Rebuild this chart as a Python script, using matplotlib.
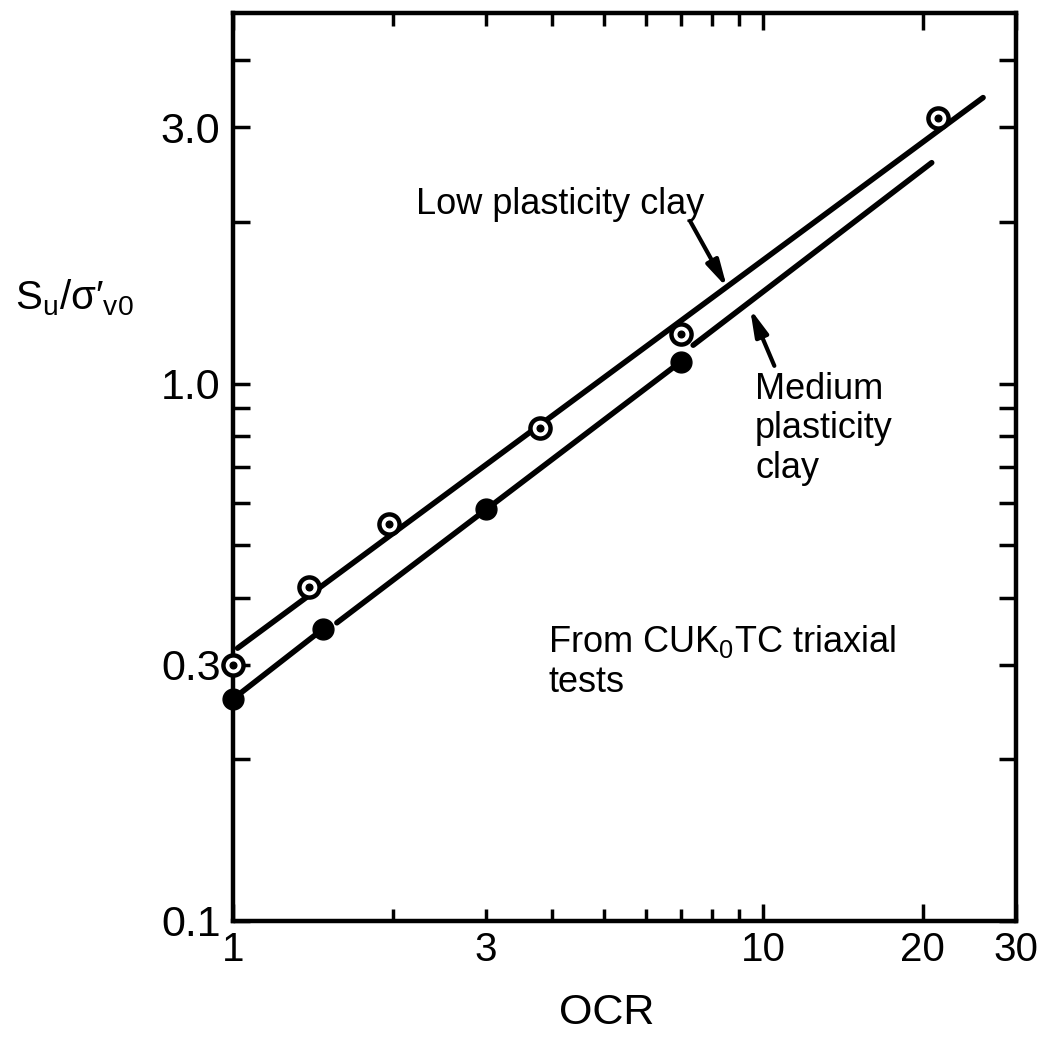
import numpy as np
import matplotlib
matplotlib.use('Agg')
import matplotlib.pyplot as plt
from matplotlib.ticker import NullFormatter

plt.rcParams['font.family'] = ['Liberation Sans', 'DejaVu Sans']
plt.rcParams['mathtext.fontset'] = 'custom'
plt.rcParams['mathtext.rm'] = 'Liberation Sans'
plt.rcParams['mathtext.it'] = 'Liberation Sans:italic'
plt.rcParams['mathtext.bf'] = 'Liberation Sans:bold'

# 测试点 (OCR, Su/σ'v0)
low_x = [1.0, 1.39, 1.97, 3.8, 7.0, 21.4]
low_y = [0.30, 0.419, 0.548, 0.828, 1.24, 3.13]
med_x = [1.0, 1.48, 3.0, 7.0]
med_y = [0.259, 0.350, 0.585, 1.10]

# 拟合线 (中塑性线在点旁断开)
low_line_x = [1.02, 26.0]
low_line_y = [0.322, 3.41]
med_line_x = [1.0, 1.48, np.nan, 1.57, 7.0, np.nan, 7.38, 20.8]
med_line_y = [0.259, 0.350, np.nan, 0.359, 1.10, np.nan, 1.18, 2.58]

x_major = [1, 10, 20, 30]
x_major_labels = ['1', '10', '20', '30']
x_minor = [2, 3, 4, 5, 6, 7, 8, 9]
x_minor_labels = ['', '3', '', '', '', '', '', '']
y_major = [0.1, 0.3, 1.0, 3.0]
y_major_labels = ['0.1', '0.3', '1.0', '3.0']
y_minor = [0.2, 0.4, 0.5, 0.6, 0.7, 0.8, 0.9, 2.0, 4.0]

fig = plt.figure(figsize=(10.44, 10.43), dpi=100)
ax = fig.add_axes([0.2232, 0.1170, 0.7500, 0.8705])
ax.set_xscale('log')
ax.set_yscale('log')

# 线
ax.plot(low_line_x, low_line_y, '-', color='black', lw=4.0, solid_capstyle='round', zorder=2)
ax.plot(med_line_x, med_line_y, '-', color='black', lw=4.0, solid_capstyle='round', zorder=2)

# 点
ax.plot(low_x, low_y, 'o', ms=14.5, mfc='white', mec='black', mew=3.2, zorder=3, clip_on=False)
ax.plot(low_x, low_y, 'o', ms=4.8, color='black', zorder=4, clip_on=False)
ax.plot(med_x, med_y, 'o', ms=15, color='black', zorder=3, clip_on=False)

ax.set_xlim(1, 30)
ax.set_ylim(0.1, 4.9)

ax.set_xticks(x_major, x_major_labels)
ax.set_xticks(x_minor, x_minor_labels, minor=True)
ax.set_yticks(y_major, y_major_labels)
ax.set_yticks(y_minor, minor=True)
ax.yaxis.set_minor_formatter(NullFormatter())

ax.tick_params(which='both', direction='in', top=True, right=True, width=2.5)
ax.tick_params(axis='x', which='major', length=12, labelsize=29, pad=7)
ax.tick_params(axis='x', which='minor', length=9, labelsize=29, pad=7)
ax.tick_params(axis='y', which='both', length=12, labelsize=31, pad=9)
for s in ax.spines.values():
    s.set_linewidth(3.2)

# 文字和箭头
ax.text(2.21, 2.07, 'Low plasticity clay', fontsize=26, ha='left', va='baseline')
ax.text(9.66, 1.05, 'Medium\nplasticity\nclay', fontsize=26, ha='left', va='top', linespacing=1.15)
ax.text(3.93, 0.359, 'From CUK$_\\mathregular{0}$TC triaxial\ntests', fontsize=26,
        ha='left', va='top', linespacing=1.2)

arrow_args = dict(arrowstyle='-|>,head_length=0.8,head_width=0.2', color='black', lw=3,
                  shrinkA=0, shrinkB=0, mutation_scale=20)
ax.annotate('', xy=(8.55, 1.51), xytext=(7.28, 2.01), arrowprops=arrow_args)
ax.annotate('', xy=(9.45, 1.38), xytext=(10.5, 1.08), arrowprops=arrow_args)

fig.text(15 / 1044, 1 - 298 / 1043, 'S$_\\mathregular{u}$/σ′$_\\mathregular{v0}$', fontsize=29,
         ha='left', va='center')
fig.text(607 / 1044, 1 - 993 / 1043, 'OCR', fontsize=31, ha='center', va='top')

fig.savefig('out.png', dpi=100)
